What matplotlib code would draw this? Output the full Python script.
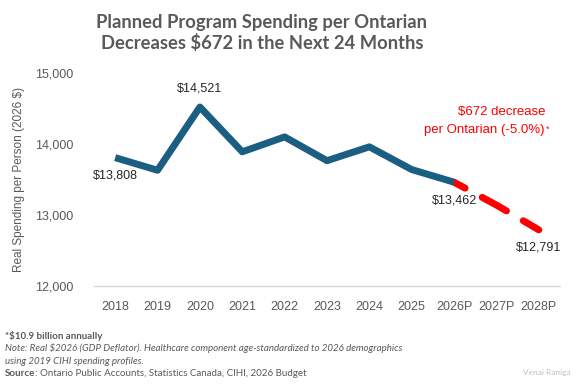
import matplotlib.pyplot as plt

years = ['2018', '2019', '2020', '2021', '2022', '2023', '2024', '2025', '2026P', '2027P', '2028P']
actual = [13808, 13630, 14521, 13890, 14100, 13765, 13960, 13640, 13462]
planned = [13462, 13140, 12791]

blue = '#1A5E82'
red = '#FF0000'
grey = '#595959'

fig = plt.figure(figsize=(5.76, 3.84), dpi=100)
ax = fig.add_axes([94 / 576, 1 - 286 / 384, 466 / 576, 213 / 384])

x_act = list(range(len(actual)))
x_plan = list(range(len(actual) - 1, len(years)))

# projection first, so the actual line sits on top
ax.plot(x_plan, planned, color=red, lw=5, linestyle=(2.2, (4.0, 2.8)),
        dash_capstyle='round', zorder=2)
ax.plot(x_act, actual, color=blue, lw=5, solid_joinstyle='round',
        solid_capstyle='butt', zorder=3)

ax.set_xlim(-0.5, len(years) - 0.5)
ax.set_ylim(12000, 15000)
ax.set_xticks(range(len(years)))
ax.set_xticklabels(years)
ax.set_yticks([12000, 13000, 14000, 15000])
ax.set_yticklabels(['12,000', '13,000', '14,000', '15,000'])
ax.tick_params(length=0, labelsize=9, labelcolor=grey)
ax.tick_params(axis='y', pad=15)
ax.tick_params(axis='x', pad=11)
for lab in ax.get_xticklabels() + ax.get_yticklabels():
    lab.set_family('Liberation Sans')
for s in ['top', 'right', 'left']:
    ax.spines[s].set_visible(False)
ax.spines['bottom'].set_color('#D9D9D9')
ax.spines['bottom'].set_linewidth(1)

ax.set_ylabel('Real Spending per Person (2026 $)', fontsize=8.5, color=grey,
              family='Liberation Sans')
ax.yaxis.set_label_coords(-0.147, 0.5)

# data labels
lab_kw = dict(fontsize=9, color='#262626', family='Liberation Sans', ha='center',
              textcoords='offset points')
ax.annotate('$13,808', (0, actual[0]), xytext=(0, -13), va='center', **lab_kw)
ax.annotate('$14,521', (2, actual[2]), xytext=(0, 13), va='center', **lab_kw)
ax.annotate('$13,462', (8, planned[0]), xytext=(0, -13), va='center', **lab_kw)
ax.annotate('$12,791', (10, planned[-1]), xytext=(0, -13), va='center', **lab_kw)

fig.text(545 / 576, 1 - 112 / 384, '$672 decrease', color=red, fontsize=9.5,
         family='Liberation Sans', ha='right', va='center')
fig.text(545 / 576, 1 - 130 / 384, 'per Ontarian (-5.0%)', color=red, fontsize=9.5,
         family='Liberation Sans', ha='right', va='center')
fig.text(546 / 576, 1 - 129 / 384, '*', color=red, fontsize=6.5,
         family='Liberation Sans', ha='left', va='center')

fig.text(262 / 576, 1 - 33 / 384, 'Planned Program Spending per Ontarian\nDecreases $672 in the Next 24 Months',
         ha='center', va='center', fontsize=13.2, fontweight='bold', color=grey,
         family='Lato', linespacing=1.18)

foot = dict(fontsize=7, color=grey, family='Lato', ha='left', va='center')
fig.text(5 / 576, 1 - 336 / 384, '*$10.9 billion annually', fontweight='bold', **foot)
fig.text(5 / 576, 1 - 348 / 384, 'Note: Real $2026 (GDP Deflator). Healthcare component age-standardized to 2026 demographics',
         style='italic', **foot)
fig.text(5 / 576, 1 - 361 / 384, 'using 2019 CIHI spending profiles.', style='italic', **foot)
src = fig.text(5 / 576, 1 - 373 / 384, 'Source', fontweight='bold', **foot)
r = fig.canvas.get_renderer()
w = src.get_window_extent(r).width
fig.text((5 + w) / 576, 1 - 373 / 384, ': Ontario Public Accounts, Statistics Canada, CIHI, 2026 Budget', **foot)
fig.text(571 / 576, 1 - 373 / 384, 'Venai Raniga', fontsize=6, color='#BFBFBF',
         family='Lato', ha='right', va='center')

fig.savefig('out.png', dpi=100)
